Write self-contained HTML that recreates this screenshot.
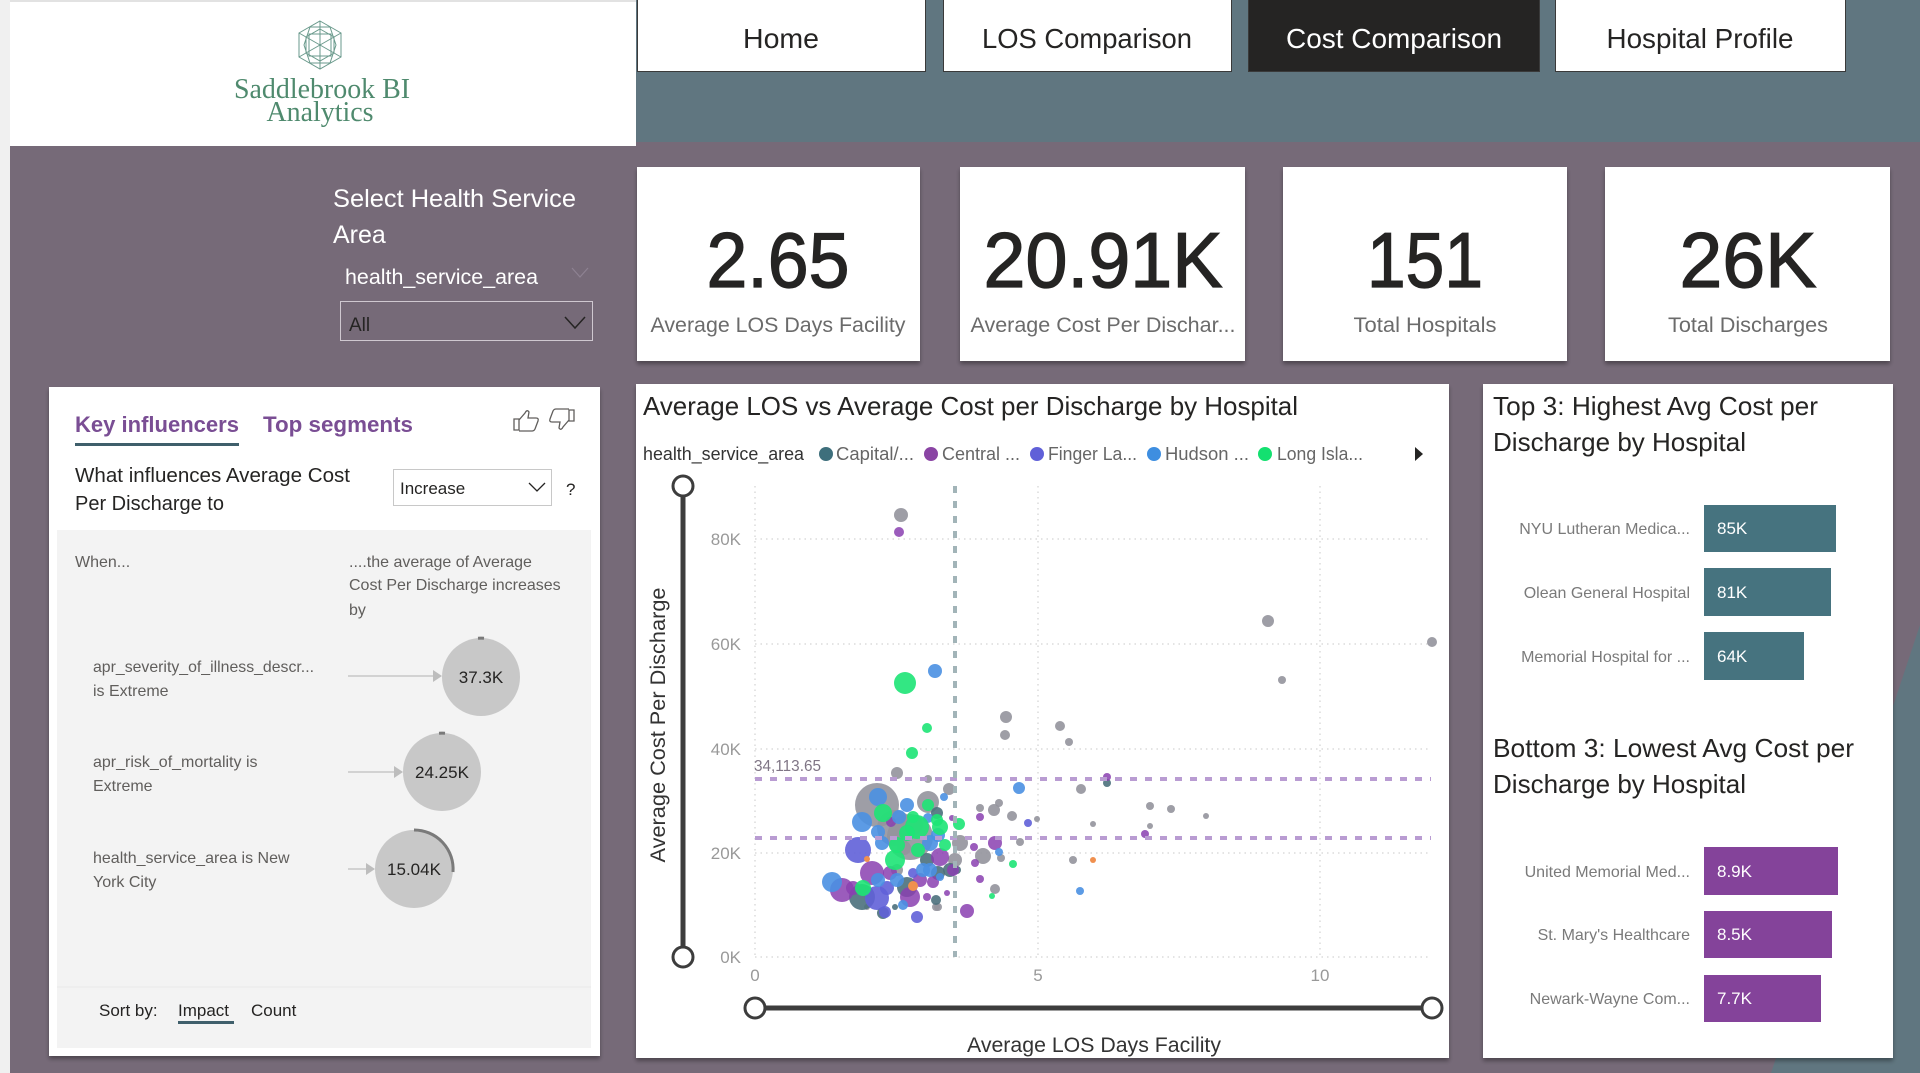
<!DOCTYPE html>
<html><head><meta charset="utf-8"><style>
html,body{margin:0;padding:0;background:#766a78;width:1920px;height:1073px;overflow:hidden}
svg{display:block}
text{font-family:"Liberation Sans",sans-serif}
</style></head><body>
<svg width="1920" height="1073" viewBox="0 0 1920 1073" xmlns="http://www.w3.org/2000/svg">
<defs>
<filter id="sh" x="-5%" y="-5%" width="110%" height="115%"><feDropShadow dx="0" dy="3" stdDeviation="2" flood-color="#000" flood-opacity="0.35"/></filter>
</defs>
<rect width="1920" height="1073" fill="#766a78"/>
<rect x="636" y="0" width="1284" height="142" fill="#607680"/>
<polygon points="1920,625 1920,1073 1771,1073" fill="#607680"/>
<rect x="0" y="0" width="10" height="1073" fill="#f0f0f0"/>
<rect x="10" y="0" width="626" height="146" fill="#fff"/>
<rect x="10" y="0" width="626" height="2" fill="#e2e2e2"/>

<!-- logo -->
<g stroke="#6a9a8c" stroke-width="1" fill="none">
<polygon points="320,21 341,33 341,57 320,69 299,57 299,33"/>
<polygon points="320,29 334,37 334,53 320,61 306,53 306,37"/>
<line x1="320" y1="21" x2="320" y2="69"/><line x1="299" y1="33" x2="341" y2="57"/><line x1="341" y1="33" x2="299" y2="57"/>
<polygon points="310,27 330,27 336,45 330,63 310,63 304,45"/>
<rect x="309" y="34" width="22" height="22"/>
</g>
<text x="322" y="98" text-anchor="middle" font-size="28" fill="#4f8a6e" textLength="176" lengthAdjust="spacingAndGlyphs" style="font-family:'Liberation Serif',serif">Saddlebrook BI</text>
<text x="320" y="121" text-anchor="middle" font-size="28" fill="#4f8a6e" textLength="107" lengthAdjust="spacingAndGlyphs" style="font-family:'Liberation Serif',serif">Analytics</text>

<!-- nav -->
<g stroke="#3a3a3a" stroke-width="1">
<rect x="637.5" y="-1" width="288" height="72.5" fill="#fff"/>
<rect x="943.5" y="-1" width="288" height="72.5" fill="#fff"/>
<rect x="1248.5" y="-1" width="291" height="72.5" fill="#252423"/>
<rect x="1555.5" y="-1" width="290" height="72.5" fill="#fff"/>
</g>
<g font-size="28" text-anchor="middle" fill="#252423">
<text x="781" y="48" textLength="76" lengthAdjust="spacingAndGlyphs">Home</text>
<text x="1087" y="48" textLength="210" lengthAdjust="spacingAndGlyphs">LOS Comparison</text>
<text x="1394" y="48" fill="#fff" textLength="216" lengthAdjust="spacingAndGlyphs">Cost Comparison</text>
<text x="1700" y="48" textLength="187" lengthAdjust="spacingAndGlyphs">Hospital Profile</text>
</g>

<!-- slicer -->
<text x="333" y="207" font-size="25" fill="#fff" textLength="243" lengthAdjust="spacingAndGlyphs">Select Health Service</text>
<text x="333" y="243" font-size="25" fill="#fff">Area</text>
<text x="345" y="284" font-size="21" fill="#fff" textLength="193" lengthAdjust="spacingAndGlyphs">health_service_area</text>
<polyline points="572,268 580,277 588,268" fill="none" stroke="#8e8292" stroke-width="1.2"/>
<rect x="340.5" y="301.5" width="252" height="39" fill="none" stroke="#cfc8d0" stroke-width="1"/>
<text x="349" y="331" font-size="19" fill="#252423">All</text>
<polyline points="565,317 575,328 585,317" fill="none" stroke="#252423" stroke-width="1.5"/>

<!-- KPI cards -->
<g fill="#fff" filter="url(#sh)">
<rect x="637" y="167" width="283" height="194"/>
<rect x="960" y="167" width="285" height="194"/>
<rect x="1283" y="167" width="284" height="194"/>
<rect x="1605" y="167" width="285" height="194"/>
</g>
<g font-size="78" text-anchor="middle" fill="#252423" stroke="#252423" stroke-width="1.3">
<text x="778" y="287" textLength="143" lengthAdjust="spacingAndGlyphs">2.65</text>
<text x="1103" y="287" textLength="239" lengthAdjust="spacingAndGlyphs">20.91K</text>
<text x="1425" y="287" textLength="116" lengthAdjust="spacingAndGlyphs">151</text>
<text x="1748" y="287" textLength="137" lengthAdjust="spacingAndGlyphs">26K</text>
</g>
<g font-size="21" text-anchor="middle" fill="#6b6b6b">
<text x="778" y="332" textLength="255" lengthAdjust="spacingAndGlyphs">Average LOS Days Facility</text>
<text x="1103" y="332" textLength="265" lengthAdjust="spacingAndGlyphs">Average Cost Per Dischar...</text>
<text x="1425" y="332" textLength="143" lengthAdjust="spacingAndGlyphs">Total Hospitals</text>
<text x="1748" y="332" textLength="160" lengthAdjust="spacingAndGlyphs">Total Discharges</text>
</g>

<!-- Key influencers card -->
<rect x="49" y="387" width="551" height="669" fill="#fff" filter="url(#sh)"/>
<rect x="57" y="530" width="534" height="518" fill="#f3f3f3"/>
<text x="75" y="432" font-size="22" font-weight="bold" fill="#7a4e94" textLength="164" lengthAdjust="spacingAndGlyphs">Key influencers</text>
<rect x="75" y="443" width="164" height="3" fill="#3f5f6b"/>
<text x="263" y="432" font-size="22" font-weight="bold" fill="#7a4e94" textLength="150" lengthAdjust="spacingAndGlyphs">Top segments</text>
<g fill="none" stroke="#605e5c" stroke-width="1.3">
<path d="M514,419 h5 v11 h-5 z M519,420 l6,-7 q2,-4 4,-1 l-1,6 h8 q3,0 2,3 l-3,8 q-1,2 -3,2 h-13"/>
<path d="M574,421 h-5 v-11 h5 z M569,420 l-6,7 q-2,4 -4,1 l1,-6 h-8 q-3,0 -2,-3 l3,-8 q1,-2 3,-2 h13"/>
</g>
<text x="75" y="482" font-size="20" fill="#252423" textLength="275" lengthAdjust="spacingAndGlyphs">What influences Average Cost</text>
<text x="75" y="510" font-size="20" fill="#252423">Per Discharge to</text>
<rect x="393.5" y="469.5" width="158" height="36" fill="#fff" stroke="#c8c8c8"/>
<text x="400" y="494" font-size="17" fill="#252423">Increase</text>
<polyline points="529,483 537,491 545,483" fill="none" stroke="#252423" stroke-width="1.3"/>
<text x="566" y="495" font-size="17" fill="#252423">?</text>
<g font-size="16" fill="#605e5c">
<text x="75" y="567">When...</text>
<text x="349" y="567">....the average of Average</text>
<text x="349" y="590">Cost Per Discharge increases</text>
<text x="349" y="615">by</text>
<text x="93" y="672" textLength="221" lengthAdjust="spacingAndGlyphs">apr_severity_of_illness_descr...</text>
<text x="93" y="696">is Extreme</text>
<text x="93" y="767">apr_risk_of_mortality is</text>
<text x="93" y="791">Extreme</text>
<text x="93" y="863">health_service_area is New</text>
<text x="93" y="887">York City</text>
</g>
<g stroke="#c8c8c8" stroke-width="1.5">
<line x1="348" y1="676" x2="434" y2="676"/>
<line x1="348" y1="772" x2="395" y2="772"/>
<line x1="348" y1="869" x2="367" y2="869"/>
</g>
<g fill="#bdbdbd">
<polygon points="433,670 442,676 433,682"/>
<polygon points="394,766 403,772 394,778"/>
<polygon points="366,863 375,869 366,875"/>
</g>
<g fill="#c8c8c8">
<circle cx="481" cy="677" r="39"/>
<circle cx="442" cy="772" r="39"/>
<circle cx="414" cy="869" r="39"/>
</g>
<g fill="none" stroke="#7a7a7a" stroke-width="3">
<path d="M478,638.2 A39,39 0 0 1 484,638.2"/>
<path d="M439,733.2 A39,39 0 0 1 445,733.2"/>
<path d="M414,830 A39,39 0 0 1 453,872"/>
</g>
<g font-size="17" fill="#252423" text-anchor="middle">
<text x="481" y="683">37.3K</text>
<text x="442" y="778">24.25K</text>
<text x="414" y="875">15.04K</text>
</g>
<line x1="57" y1="987" x2="591" y2="987" stroke="#e8e8e8"/>
<text x="99" y="1016" font-size="17" fill="#252423">Sort by:</text>
<text x="178" y="1016" font-size="17" fill="#252423">Impact</text>
<rect x="178" y="1021" width="56" height="3" fill="#3f5f6b"/>
<text x="251" y="1016" font-size="17" fill="#252423">Count</text>

<!-- Scatter card -->
<rect x="636" y="384" width="813" height="674" fill="#fff" filter="url(#sh)"/>
<text x="643" y="415" font-size="26" fill="#252423" textLength="655" lengthAdjust="spacingAndGlyphs">Average LOS vs Average Cost per Discharge by Hospital</text>
<text x="643" y="460" font-size="18" fill="#333" textLength="161" lengthAdjust="spacingAndGlyphs">health_service_area</text>
<circle cx="826" cy="454" r="7" fill="#3e6f7c"/>
<text x="836" y="460" font-size="18" fill="#666" textLength="78" lengthAdjust="spacingAndGlyphs">Capital/...</text>
<circle cx="931" cy="454" r="7" fill="#8a44a4"/>
<text x="942" y="460" font-size="18" fill="#666" textLength="78" lengthAdjust="spacingAndGlyphs">Central ...</text>
<circle cx="1037" cy="454" r="7" fill="#6060d8"/>
<text x="1048" y="460" font-size="18" fill="#666" textLength="89" lengthAdjust="spacingAndGlyphs">Finger La...</text>
<circle cx="1154" cy="454" r="7" fill="#3e8ee0"/>
<text x="1165" y="460" font-size="18" fill="#666" textLength="84" lengthAdjust="spacingAndGlyphs">Hudson ...</text>
<circle cx="1265" cy="454" r="7" fill="#14e070"/>
<text x="1277" y="460" font-size="18" fill="#666" textLength="86" lengthAdjust="spacingAndGlyphs">Long Isla...</text>
<polygon points="1415,447 1423,454 1415,461" fill="#252423"/>

<!-- gridlines -->
<g stroke="#c8c8c8" stroke-width="1" stroke-dasharray="1.5,4">
<line x1="755" y1="539" x2="1431" y2="539"/>
<line x1="755" y1="644" x2="1431" y2="644"/>
<line x1="755" y1="749" x2="1431" y2="749"/>
<line x1="755" y1="853" x2="1431" y2="853"/>
<line x1="755" y1="957" x2="1431" y2="957"/>
<line x1="755" y1="486" x2="755" y2="957"/>
<line x1="1038" y1="486" x2="1038" y2="957"/>
<line x1="1320" y1="486" x2="1320" y2="957"/>
</g>
<g font-size="17" fill="#999" text-anchor="end">
<text x="741" y="545">80K</text>
<text x="741" y="650">60K</text>
<text x="741" y="755">40K</text>
<text x="741" y="859">20K</text>
<text x="741" y="963">0K</text>
</g>
<g font-size="17" fill="#999" text-anchor="middle">
<text x="755" y="981">0</text>
<text x="1038" y="981">5</text>
<text x="1320" y="981">10</text>
</g>
<text transform="translate(665,725) rotate(-90)" text-anchor="middle" font-size="21" fill="#333" textLength="275" lengthAdjust="spacingAndGlyphs">Average Cost Per Discharge</text>
<text x="1094" y="1052" text-anchor="middle" font-size="21" fill="#333" textLength="254" lengthAdjust="spacingAndGlyphs">Average LOS Days Facility</text>

<!-- bubbles -->
<g fill="#94949c" fill-opacity="0.9">
<circle cx="877" cy="805" r="22"/><circle cx="910" cy="837" r="23"/><circle cx="895" cy="828" r="18"/><circle cx="928" cy="802" r="11"/><circle cx="913" cy="825" r="10"/>
<circle cx="960" cy="843" r="8"/><circle cx="955" cy="860" r="7"/><circle cx="904" cy="848" r="7"/><circle cx="897" cy="870" r="6"/>
<circle cx="867" cy="907" r="3"/><circle cx="938" cy="907" r="4"/><circle cx="949" cy="789" r="6"/><circle cx="928" cy="779" r="4"/>
<circle cx="897" cy="773" r="6"/><circle cx="901" cy="515" r="7"/><circle cx="980" cy="808" r="4"/><circle cx="999" cy="803" r="4"/>
<circle cx="994" cy="810" r="6"/><circle cx="1012" cy="816" r="5"/><circle cx="1037" cy="819" r="3"/><circle cx="983" cy="856" r="8"/>
<circle cx="1020" cy="842" r="4"/><circle cx="1001" cy="858" r="4"/><circle cx="995" cy="889" r="5"/><circle cx="1006" cy="717" r="6"/>
<circle cx="1005" cy="735" r="5"/><circle cx="1060" cy="726" r="5"/><circle cx="1069" cy="742" r="4"/><circle cx="1081" cy="789" r="5"/>
<circle cx="1073" cy="860" r="4"/><circle cx="1093" cy="824" r="3"/><circle cx="1150" cy="806" r="4"/><circle cx="1171" cy="809" r="4"/>
<circle cx="1206" cy="816" r="3"/><circle cx="1150" cy="826" r="3"/><circle cx="1268" cy="621" r="6"/><circle cx="1282" cy="680" r="4"/>
<circle cx="1432" cy="642" r="5"/><circle cx="936" cy="907" r="4"/>
</g>
<g fill="#4b707c" fill-opacity="0.9">
<circle cx="937" cy="813" r="6"/><circle cx="950" cy="870" r="7"/><circle cx="862" cy="897" r="13"/><circle cx="883" cy="913" r="6"/>
<circle cx="907" cy="887" r="10"/><circle cx="938" cy="873" r="7"/><circle cx="957" cy="870" r="4"/><circle cx="936" cy="900" r="5"/>
<circle cx="927" cy="860" r="7"/><circle cx="895" cy="907" r="3"/><circle cx="1107" cy="783" r="4"/>
</g>
<g fill="#8a3fb0" fill-opacity="0.85">
<circle cx="891" cy="822" r="5"/><circle cx="940" cy="857" r="9"/><circle cx="872" cy="873" r="12"/><circle cx="842" cy="890" r="12"/>
<circle cx="853" cy="888" r="7"/><circle cx="890" cy="873" r="7"/><circle cx="910" cy="897" r="10"/><circle cx="920" cy="880" r="7"/>
<circle cx="933" cy="882" r="6"/><circle cx="953" cy="870" r="6"/><circle cx="927" cy="897" r="4"/><circle cx="947" cy="893" r="3"/>
<circle cx="967" cy="911" r="7"/><circle cx="899" cy="532" r="5"/><circle cx="952" cy="818" r="3"/><circle cx="980" cy="817" r="4"/>
<circle cx="995" cy="843" r="7"/><circle cx="974" cy="847" r="4"/><circle cx="975" cy="863" r="4"/><circle cx="980" cy="879" r="4"/>
<circle cx="1107" cy="777" r="4"/><circle cx="1145" cy="834" r="4"/>
</g>
<g fill="#6060d8" fill-opacity="0.9">
<circle cx="858" cy="850" r="13"/><circle cx="877" cy="898" r="12"/><circle cx="887" cy="888" r="7"/><circle cx="913" cy="873" r="5"/>
<circle cx="917" cy="917" r="6"/><circle cx="885" cy="912" r="6"/><circle cx="1028" cy="823" r="4"/>
</g>
<g fill="#4a90e2" fill-opacity="0.9">
<circle cx="878" cy="797" r="9"/><circle cx="907" cy="805" r="7"/><circle cx="862" cy="822" r="10"/><circle cx="899" cy="817" r="7"/>
<circle cx="938" cy="835" r="7"/><circle cx="878" cy="832" r="7"/><circle cx="882" cy="843" r="7"/><circle cx="930" cy="843" r="8"/>
<circle cx="930" cy="870" r="7"/><circle cx="832" cy="882" r="10"/><circle cx="878" cy="880" r="7"/><circle cx="897" cy="880" r="7"/>
<circle cx="923" cy="870" r="7"/><circle cx="940" cy="877" r="4"/><circle cx="903" cy="905" r="5"/><circle cx="944" cy="797" r="4"/>
<circle cx="928" cy="818" r="5"/><circle cx="935" cy="671" r="7"/><circle cx="999" cy="852" r="4"/><circle cx="1019" cy="788" r="6"/><circle cx="1080" cy="891" r="4"/>
</g>
<g fill="#1de475" fill-opacity="0.9">
<circle cx="928" cy="805" r="6"/><circle cx="883" cy="813" r="9"/><circle cx="913" cy="817" r="6"/><circle cx="940" cy="827" r="8"/>
<circle cx="917" cy="827" r="12"/><circle cx="897" cy="845" r="8"/><circle cx="907" cy="833" r="8"/><circle cx="895" cy="860" r="10"/>
<circle cx="863" cy="888" r="8"/><circle cx="937" cy="820" r="6"/><circle cx="912" cy="753" r="6"/><circle cx="927" cy="728" r="5"/>
<circle cx="905" cy="683" r="11"/><circle cx="959" cy="824" r="6"/><circle cx="1013" cy="864" r="4"/><circle cx="992" cy="896" r="3"/>
<circle cx="918" cy="850" r="7"/><circle cx="945" cy="845" r="6"/>
</g>
<g fill="#f0904f">
<circle cx="867" cy="859" r="3"/><circle cx="913" cy="886" r="5"/><circle cx="1093" cy="860" r="3"/>
</g>

<!-- reference lines -->
<g stroke="#b99cd2" stroke-width="4" stroke-dasharray="7,8">
<line x1="755" y1="779" x2="1431" y2="779"/>
<line x1="755" y1="838" x2="1431" y2="838"/>
</g>
<line x1="955" y1="486" x2="955" y2="957" stroke="#a2b4b8" stroke-width="4" stroke-dasharray="7,8"/>
<text x="754" y="771" font-size="16" fill="#7f7585" textLength="67" lengthAdjust="spacingAndGlyphs">34,113.65</text>

<!-- sliders -->
<line x1="683" y1="486" x2="683" y2="957" stroke="#3d3d3d" stroke-width="5"/>
<circle cx="683" cy="486" r="10" fill="#fff" stroke="#3d3d3d" stroke-width="3"/>
<circle cx="683" cy="957" r="10" fill="#fff" stroke="#3d3d3d" stroke-width="3"/>
<line x1="755" y1="1008" x2="1432" y2="1008" stroke="#3d3d3d" stroke-width="5"/>
<circle cx="755" cy="1008" r="10" fill="#fff" stroke="#3d3d3d" stroke-width="3"/>
<circle cx="1432" cy="1008" r="10" fill="#fff" stroke="#3d3d3d" stroke-width="3"/>

<!-- right panel -->
<rect x="1483" y="384" width="410" height="674" fill="#fff" filter="url(#sh)"/>
<g font-size="26" fill="#252423">
<text x="1493" y="415" textLength="325" lengthAdjust="spacingAndGlyphs">Top 3: Highest Avg Cost per</text>
<text x="1493" y="451" textLength="253" lengthAdjust="spacingAndGlyphs">Discharge by Hospital</text>
<text x="1493" y="757" textLength="361" lengthAdjust="spacingAndGlyphs">Bottom 3: Lowest Avg Cost per</text>
<text x="1493" y="793" textLength="253" lengthAdjust="spacingAndGlyphs">Discharge by Hospital</text>
</g>
<g fill="#46737f">
<rect x="1704" y="505" width="132" height="47"/>
<rect x="1704" y="568" width="127" height="48"/>
<rect x="1704" y="632" width="100" height="48"/>
</g>
<g fill="#84439a">
<rect x="1704" y="847" width="134" height="48"/>
<rect x="1704" y="911" width="128" height="47"/>
<rect x="1704" y="975" width="117" height="47"/>
</g>
<g font-size="16" fill="#7a7a7a" text-anchor="end">
<text x="1690" y="534">NYU Lutheran Medica...</text>
<text x="1690" y="598">Olean General Hospital</text>
<text x="1690" y="662">Memorial Hospital for ...</text>
<text x="1690" y="877">United Memorial Med...</text>
<text x="1690" y="940">St. Mary's Healthcare</text>
<text x="1690" y="1004">Newark-Wayne Com...</text>
</g>
<g font-size="17" fill="#fff">
<text x="1717" y="534">85K</text>
<text x="1717" y="598">81K</text>
<text x="1717" y="662">64K</text>
<text x="1717" y="877">8.9K</text>
<text x="1717" y="940">8.5K</text>
<text x="1717" y="1004">7.7K</text>
</g>
</svg>
</body></html>
